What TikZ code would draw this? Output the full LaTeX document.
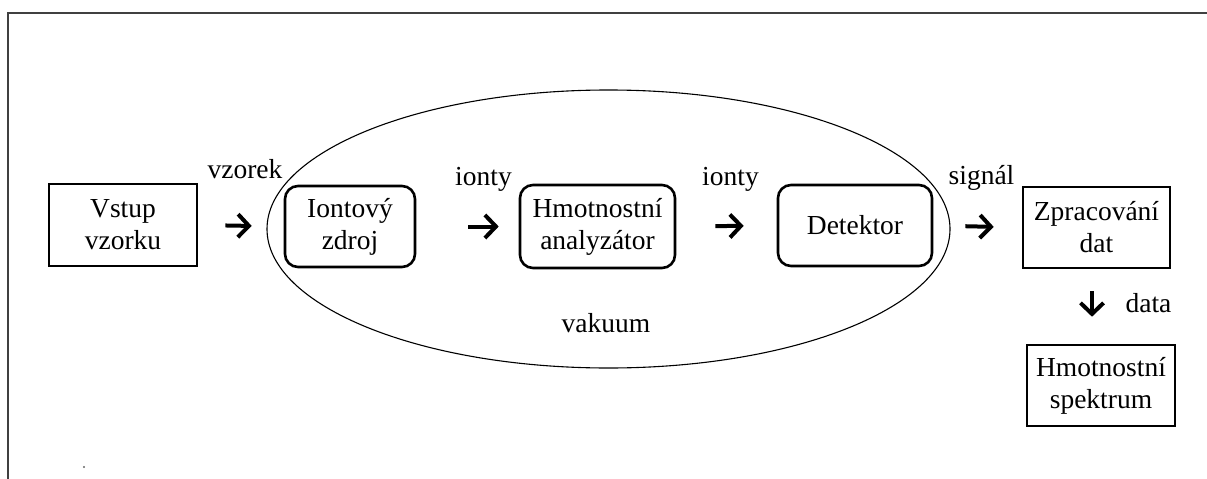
\documentclass[tikz,border=0pt]{standalone}
\usepackage{fontspec}
\setmainfont{Liberation Serif}
\usetikzlibrary{arrows.meta}
\tikzset{
  x=1pt, y=-1pt,
  txt/.style={font=\fontsize{27.5}{32}\selectfont, inner sep=0pt},
  plainbox/.style={draw, line width=2.6pt, txt, align=center, inner sep=0pt},
  roundbox/.style={plainbox, rounded corners=13pt},
  flow/.style={line width=4pt, -{Straight Barb[length=11pt,width=23pt,line width=4pt]}},
  lbl/.style={txt, anchor=base},
}
\begin{document}
\begin{tikzpicture}
\useasboundingbox (0,0) rectangle (1207,479);

% open frame along the top and left edges
\draw[line width=2pt, black!75] (8.3,479) -- (8.3,12.7) -- (1207,12.7);
\fill[black!60] (84,467) circle (1.1);

% vacuum region
\draw[line width=1.1pt] (608.5,229) ellipse [x radius=341.5, y radius=139];
\node[lbl] (vak) at (606,332) {vakuum};

% stages
\node[plainbox, minimum width=148pt, minimum height=82pt] (in)   at (123,225)    {Vstup\\vzorku};
\node[roundbox, minimum width=130pt, minimum height=81pt] (src)  at (350,226.5)  {Iontový\\zdroj};
\node[roundbox, minimum width=155pt, minimum height=83pt] (ana)  at (597.5,226.5){Hmotnostní\\analyzátor};
\node[roundbox, minimum width=154pt, minimum height=81pt] (det)  at (855,225.5)  {Detektor};
\node[plainbox, minimum width=147pt, minimum height=81pt] (proc) at (1096.5,227.5){Zpracování\\dat};
\node[plainbox, minimum width=148pt, minimum height=81pt] (spec) at (1101,385.5) {Hmotnostní\\spektrum};

% connectors
\draw[flow, shorten <=27pt, shorten >=32pt] (in.east)  -- (src.west);
\draw[flow, shorten <=52pt, shorten >=20pt] (src.east) -- (ana.west);
\draw[flow, shorten <=39pt, shorten >=33pt] (ana.east) -- (det.west);
\draw[flow, shorten <=32pt, shorten >=28pt] (det.east) -- (proc.west);
\draw[flow, shorten <=22pt, shorten >=27pt] ([xshift=-4.5pt]proc.south) -- ([xshift=-4.5pt]proc.south |- spec.north);

% connector labels
\node[lbl] (l1) at (245,178)  {vzorek};
\node[lbl] (l2) at (483.5,185) {ionty};
\node[lbl] (l3) at (730.5,185) {ionty};
\node[lbl] (l4) at (981.5,184) {signál};
\node[lbl] (l5) at (1148.5,312) {data};
\end{tikzpicture}
\end{document}
